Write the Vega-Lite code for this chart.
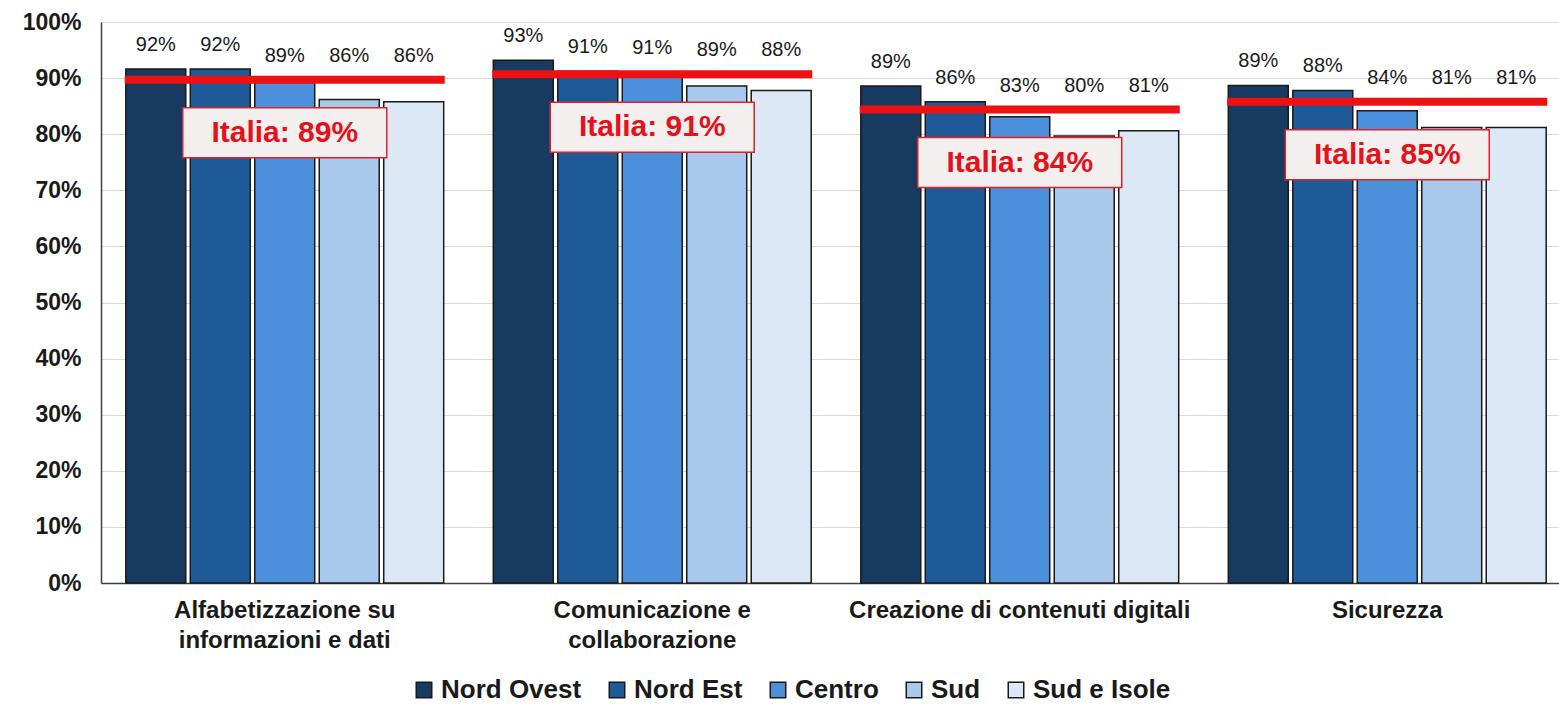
{
  "$schema": "https://vega.github.io/schema/vega-lite/v6.json",
  "width": 1458,
  "height": 561,
  "autosize": {"type": "none"},
  "padding": {"left": 101, "top": 22, "right": 0, "bottom": 126},
  "background": "white",
  "config": {"font": "Liberation Sans", "view": {"stroke": null}},
  "datasets": {
    "bars": [
      {"category": "Alfabetizzazione su informazioni e dati", "region": "Nord Ovest", "value": 0.916},
      {"category": "Alfabetizzazione su informazioni e dati", "region": "Nord Est", "value": 0.916},
      {"category": "Alfabetizzazione su informazioni e dati", "region": "Centro", "value": 0.892},
      {"category": "Alfabetizzazione su informazioni e dati", "region": "Sud", "value": 0.862},
      {"category": "Alfabetizzazione su informazioni e dati", "region": "Sud e Isole", "value": 0.858},
      {"category": "Comunicazione e collaborazione", "region": "Nord Ovest", "value": 0.932},
      {"category": "Comunicazione e collaborazione", "region": "Nord Est", "value": 0.912},
      {"category": "Comunicazione e collaborazione", "region": "Centro", "value": 0.91},
      {"category": "Comunicazione e collaborazione", "region": "Sud", "value": 0.886},
      {"category": "Comunicazione e collaborazione", "region": "Sud e Isole", "value": 0.878},
      {"category": "Creazione di contenuti digitali", "region": "Nord Ovest", "value": 0.886},
      {"category": "Creazione di contenuti digitali", "region": "Nord Est", "value": 0.858},
      {"category": "Creazione di contenuti digitali", "region": "Centro", "value": 0.831},
      {"category": "Creazione di contenuti digitali", "region": "Sud", "value": 0.797},
      {"category": "Creazione di contenuti digitali", "region": "Sud e Isole", "value": 0.806},
      {"category": "Sicurezza", "region": "Nord Ovest", "value": 0.887},
      {"category": "Sicurezza", "region": "Nord Est", "value": 0.878},
      {"category": "Sicurezza", "region": "Centro", "value": 0.842},
      {"category": "Sicurezza", "region": "Sud", "value": 0.812},
      {"category": "Sicurezza", "region": "Sud e Isole", "value": 0.812}
    ],
    "italia": [
      {"category": "Alfabetizzazione su informazioni e dati", "line": 0.897, "label": "Italia: 89%"},
      {"category": "Comunicazione e collaborazione", "line": 0.907, "label": "Italia: 91%"},
      {"category": "Creazione di contenuti digitali", "line": 0.844, "label": "Italia: 84%"},
      {"category": "Sicurezza", "line": 0.858, "label": "Italia: 85%"}
    ]
  },
  "encoding": {
    "x": {
      "field": "category",
      "type": "nominal",
      "sort": null,
      "scale": {"range": [0, 1470], "paddingInner": 0.135, "paddingOuter": 0.0675},
      "axis": {
        "title": null,
        "labelAngle": 0,
        "labelFontSize": 24,
        "labelFontWeight": "bold",
        "labelColor": "#1a1a1a",
        "labelPadding": 15,
        "labelLineHeight": 30,
        "labelLimit": 0,
        "ticks": false,
        "domainColor": "#404040",
        "domainWidth": 1.5,
        "labelExpr": "datum.label == 'Alfabetizzazione su informazioni e dati' ? ['Alfabetizzazione su', 'informazioni e dati'] : datum.label == 'Comunicazione e collaborazione' ? ['Comunicazione e', 'collaborazione'] : datum.label"
      }
    }
  },
  "layer": [
    {
      "data": {"name": "bars"},
      "mark": {"type": "bar", "stroke": "#1a1a1a", "strokeWidth": 1.5},
      "encoding": {
        "xOffset": {"field": "region", "type": "nominal", "sort": ["Nord Ovest", "Nord Est", "Centro", "Sud", "Sud e Isole"], "scale": {"paddingInner": 0.07}},
        "y": {
          "field": "value",
          "type": "quantitative",
          "scale": {"domain": [0, 1]},
          "axis": {
            "title": null,
            "values": [0, 0.1, 0.2, 0.3, 0.4, 0.5, 0.6, 0.7, 0.8, 0.9, 1],
            "format": ".0%",
            "labelFontSize": 23,
            "labelFontWeight": "bold",
            "labelColor": "#1a1a1a",
            "labelPadding": 20,
            "ticks": false,
            "domain": true,
            "domainColor": "#404040",
            "domainWidth": 1.5,
            "gridColor": "#d9d9d9",
            "gridWidth": 1
          }
        },
        "color": {
          "field": "region",
          "type": "nominal",
          "scale": {
            "domain": ["Nord Ovest", "Nord Est", "Centro", "Sud", "Sud e Isole"],
            "range": ["#173a60", "#1e5a98", "#4c8fda", "#a8c8ec", "#dce8f5"]
          },
          "legend": {
            "title": null,
            "orient": "none",
            "direction": "horizontal",
            "legendX": 310,
            "legendY": 655,
            "symbolType": "square",
            "symbolSize": 240,
            "symbolStrokeColor": "#1a1a1a",
            "symbolStrokeWidth": 1.5,
            "symbolOpacity": 1,
            "labelFontSize": 26,
            "labelFontWeight": "bold",
            "labelColor": "#1a1a1a",
            "labelOffset": 4,
            "columnPadding": 22,
            "labelLimit": 0
          }
        }
      }
    },
    {
      "data": {"name": "italia"},
      "mark": {"type": "tick", "color": "#ee1111", "thickness": 8, "size": 320, "opacity": 1},
      "encoding": {
        "y": {"field": "line", "type": "quantitative", "scale": {"domain": [0, 1]}}
      }
    },
    {
      "data": {"name": "italia"},
      "mark": {"type": "bar", "width": 204, "fill": "#f3efef", "stroke": "#e0202a", "strokeWidth": 1.5, "yOffset": 28, "y2Offset": 78},
      "encoding": {
        "y": {"field": "line", "type": "quantitative", "scale": {"domain": [0, 1]}},
        "y2": {"field": "line"}
      }
    },
    {
      "data": {"name": "italia"},
      "mark": {"type": "text", "fontSize": 30, "fontWeight": "bold", "color": "#e3121b", "dy": 53, "baseline": "middle", "align": "center"},
      "encoding": {
        "y": {"field": "line", "type": "quantitative", "scale": {"domain": [0, 1]}},
        "text": {"field": "label"}
      }
    },
    {
      "data": {"name": "bars"},
      "transform": [
        {"lookup": "category", "from": {"data": {"name": "italia"}, "key": "category", "fields": ["line"]}},
        {"calculate": "max(datum.value, datum.line)", "as": "labelBase"}
      ],
      "mark": {"type": "text", "fontSize": 20, "color": "#1a1a1a", "dy": -24, "baseline": "middle", "align": "center"},
      "encoding": {
        "xOffset": {"field": "region", "type": "nominal", "sort": ["Nord Ovest", "Nord Est", "Centro", "Sud", "Sud e Isole"], "scale": {"paddingInner": 0.07}},
        "y": {"field": "labelBase", "type": "quantitative", "scale": {"domain": [0, 1]}},
        "text": {"field": "value", "type": "quantitative", "format": ".0%"}
      }
    }
  ]
}
